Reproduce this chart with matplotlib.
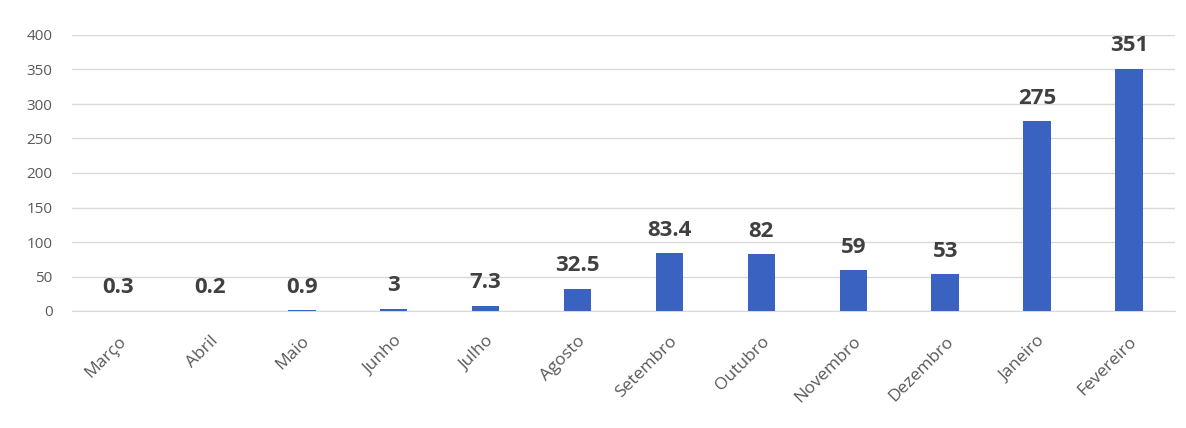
import matplotlib.pyplot as plt
import matplotlib.transforms as mtrans
import numpy as np

# monthly values
months = ['Março', 'Abril', 'Maio', 'Junho', 'Julho', 'Agosto', 'Setembro',
          'Outubro', 'Novembro', 'Dezembro', 'Janeiro', 'Fevereiro']
values = [0.3, 0.2, 0.9, 3, 7.3, 32.5, 83.4, 82, 59, 53, 275, 351]
labels = ['0.3', '0.2', '0.9', '3', '7.3', '32.5', '83.4', '82', '59', '53', '275', '351']
yticks = [0, 50, 100, 150, 200, 250, 300, 350, 400]

plt.rcParams['font.family'] = ['Open Sans', 'DejaVu Sans']

fig = plt.figure(figsize=(11.86, 4.28), dpi=100)
ax = fig.add_axes([72/1186, 117/428, 1103/1186, 276/428])

x = np.arange(len(months))
ax.bar(x, values, width=0.3, color='#3A62C0', zorder=3)

for xi, v, s in zip(x, values, labels):
    ax.annotate(s, (xi, v), xytext=(0, 9), textcoords='offset points',
                ha='center', va='bottom', fontsize=16, fontweight='bold', color='#404040')

ax.set_xlim(-0.5, len(months) - 0.5)
ax.set_ylim(0, 400)
ax.set_yticks(yticks)
ax.set_yticklabels([str(t) for t in yticks], fontsize=11, color='#595959')
ax.yaxis.grid(True, color='#d9d9d9', linewidth=1, zorder=0)
ax.set_xticks(x)
ax.set_xticklabels(months, rotation=45, ha='right', rotation_mode='anchor',
                   fontsize=12.5, color='#595959')
# shift month labels a little to the right, like the original
shift = mtrans.ScaledTranslation(7/100, 0, fig.dpi_scale_trans)
for lab in ax.get_xticklabels():
    lab.set_transform(lab.get_transform() + shift)
ax.tick_params(axis='both', length=0)
ax.tick_params(axis='y', pad=14)
ax.tick_params(axis='x', pad=16)
for sp in ['top', 'right', 'left']:
    ax.spines[sp].set_visible(False)
ax.spines['bottom'].set_color('#d9d9d9')

fig.savefig('out.png', dpi=100)
